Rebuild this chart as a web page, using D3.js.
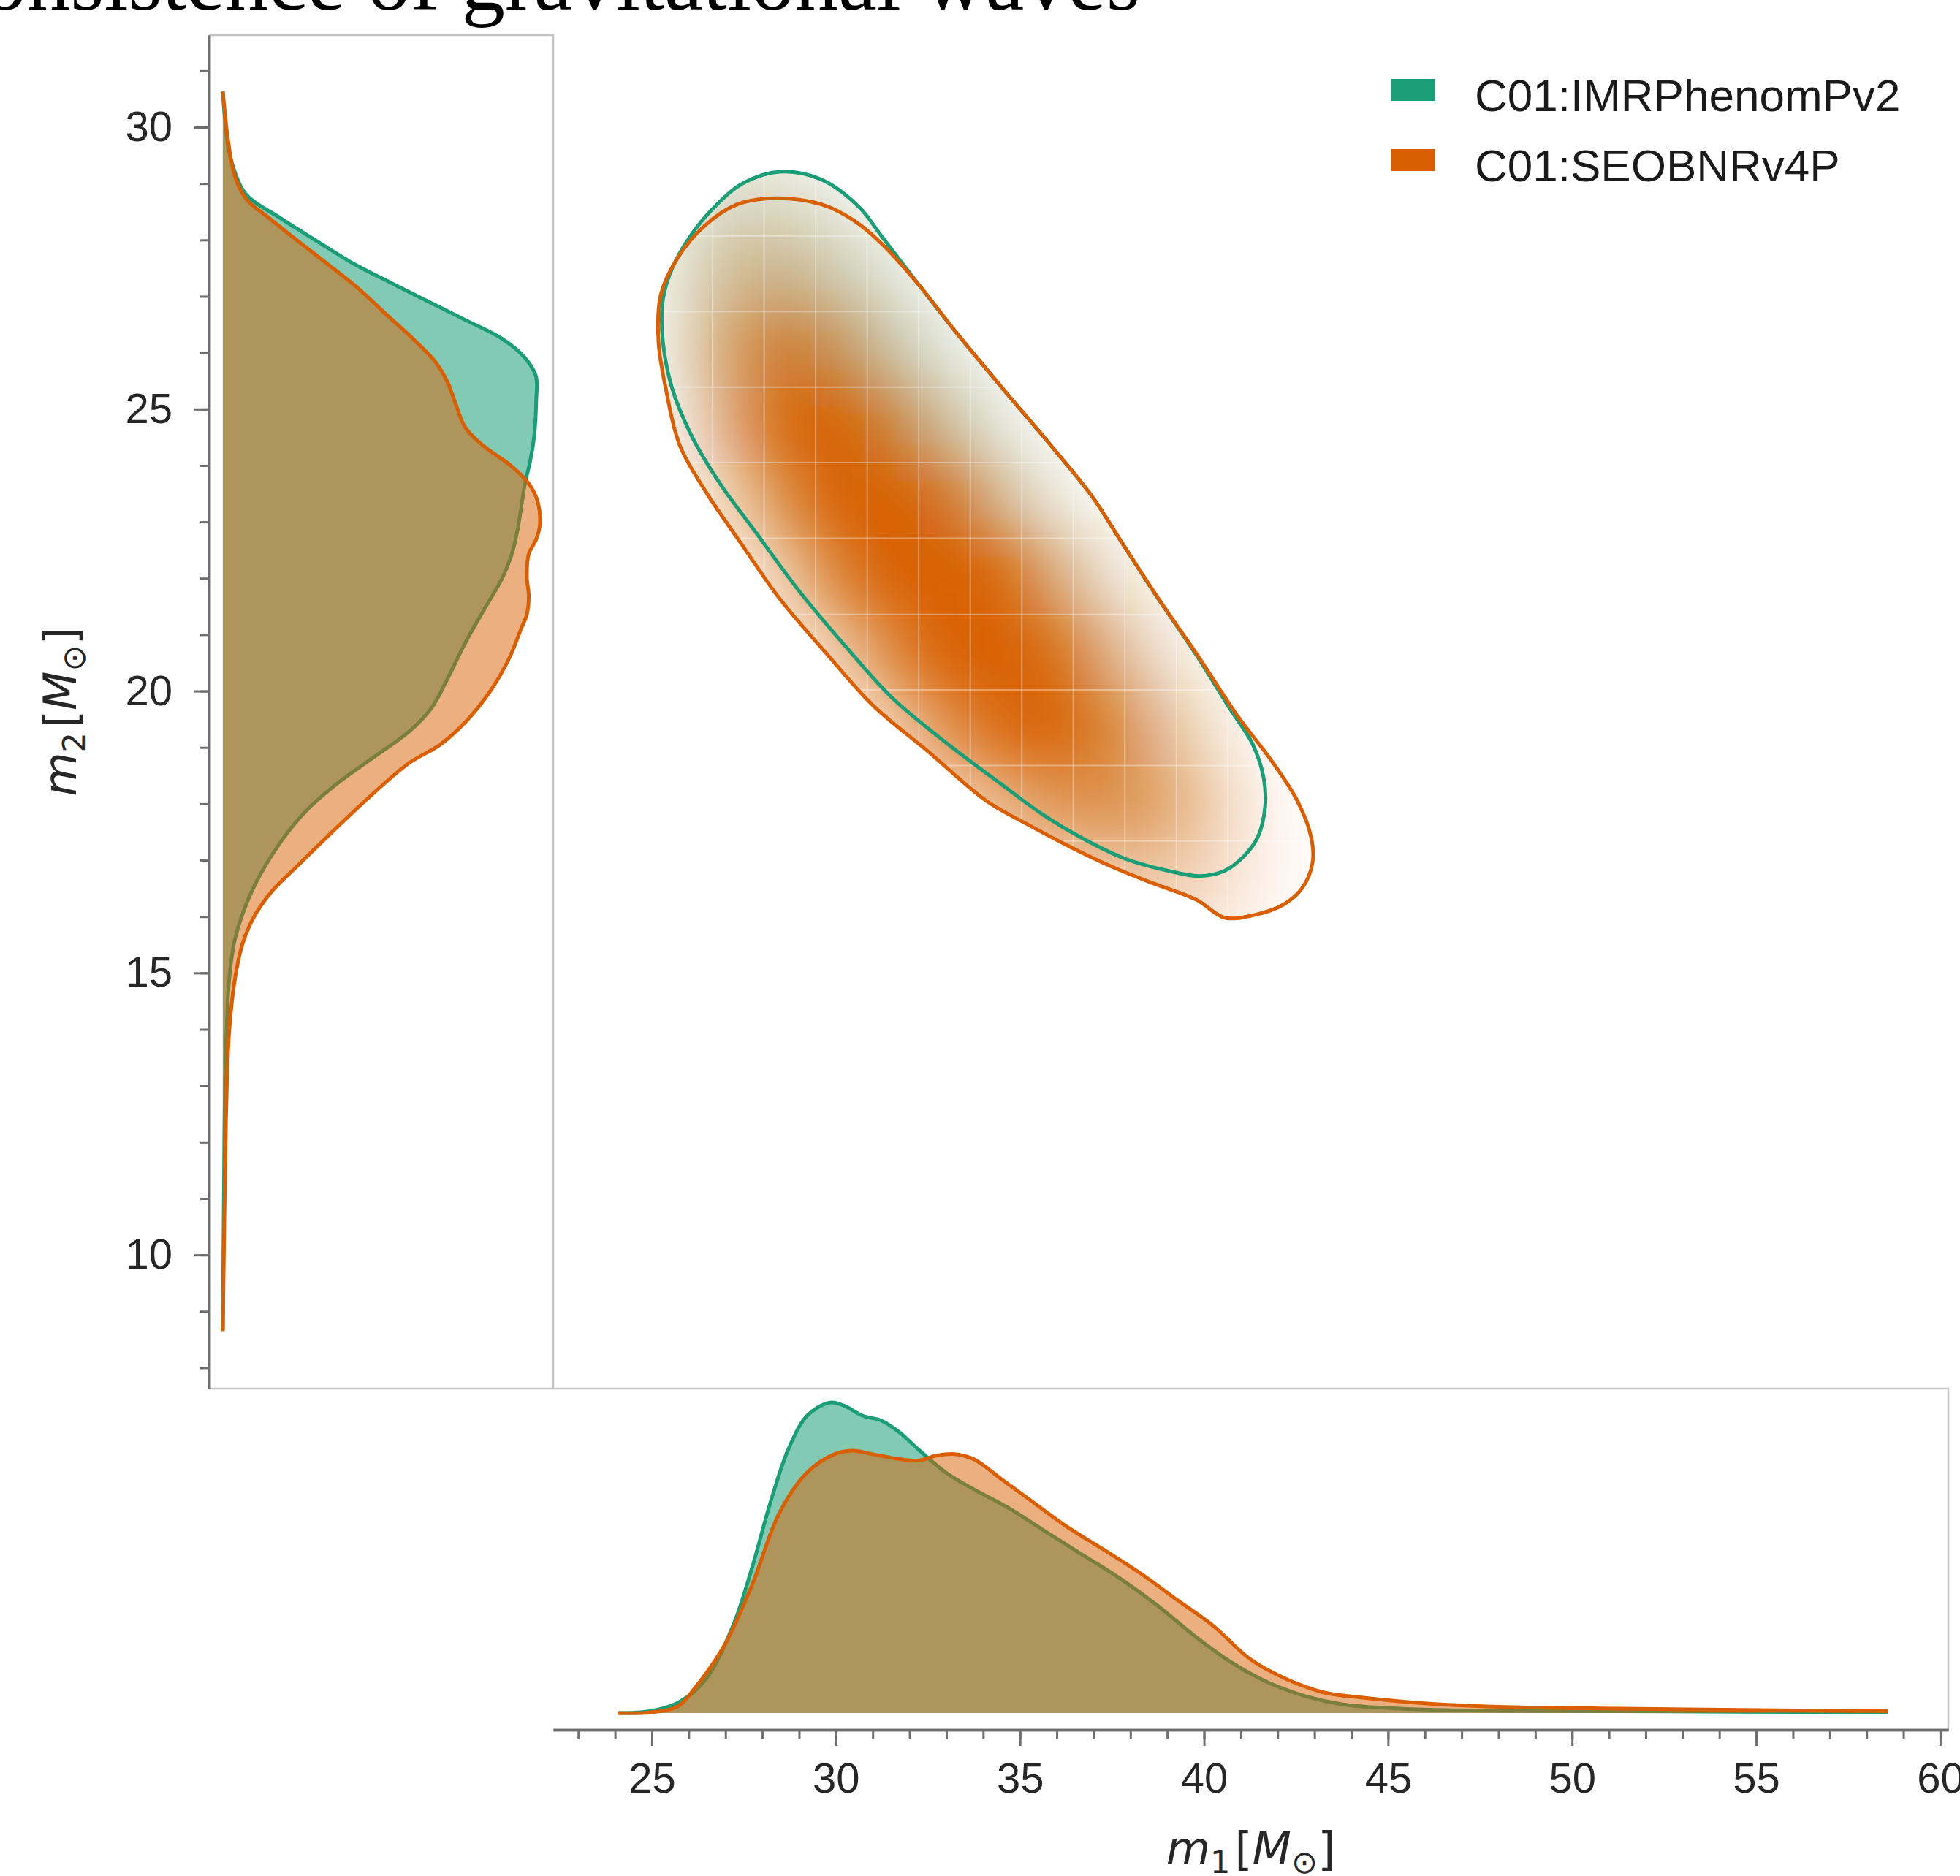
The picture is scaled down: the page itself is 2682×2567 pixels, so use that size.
<!DOCTYPE html>
<html>
<head>
<meta charset="utf-8">
<title>m1 / m2 posterior comparison</title>
<script src="https://cdn.jsdelivr.net/npm/d3@7"></script>
<style>
  body { margin: 0; background: #fff; }
  svg text { font-family: "Liberation Sans", Arial, sans-serif; }
</style>
</head>
<body>
<div id="chart"></div>
<script>
// ---- values ----
var labels = ["C01:IMRPhenomPv2", "C01:SEOBNRv4P"];
var colours = ["#1b9e77", "#d95f02"];
var xTicks = [25, 30, 35, 40, 45, 50, 55, 60];
var yTicks = [10, 15, 20, 25, 30];

// m1 marginal, [m1, relative density]
var m1Green = [[24.07,0],[24.95,0.006],[25.71,0.033],[26.46,0.108],[27.20,0.28],[27.71,0.463],[28.22,0.678],[28.71,0.85],[29.22,0.958],[29.84,1.0],[30.22,0.99],[30.72,0.958],[31.23,0.942],[31.73,0.904],[32.23,0.85],[32.98,0.775],[33.74,0.721],[34.74,0.657],[35.74,0.581],[36.75,0.506],[37.75,0.431],[38.75,0.345],[39.75,0.248],[40.76,0.162],[41.77,0.097],[42.77,0.054],[43.77,0.028],[45.03,0.016],[46.28,0.01],[51.30,0.006],[58.57,0.003]];
var m1Orange = [[24.07,0],[24.95,0.002],[25.71,0.022],[26.21,0.087],[26.96,0.216],[27.71,0.409],[28.47,0.646],[29.22,0.775],[29.97,0.834],[30.47,0.845],[30.98,0.834],[31.73,0.818],[32.23,0.813],[32.73,0.829],[33.23,0.834],[33.74,0.818],[34.49,0.754],[35.24,0.689],[36.24,0.603],[37.25,0.528],[38.25,0.452],[39.25,0.366],[40.26,0.28],[41.26,0.173],[42.27,0.108],[43.27,0.066],[44.28,0.05],[45.78,0.033],[47.53,0.022],[51.30,0.014],[58.57,0.006]];

// m2 marginal, [m2, relative density]
var m2Green = [[30.63,0],[29.72,0.015],[29.31,0.032],[28.81,0.074],[28.40,0.18],[27.98,0.30],[27.57,0.42],[27.24,0.536],[26.91,0.655],[26.58,0.774],[26.24,0.893],[25.91,0.964],[25.58,0.999],[25.17,1.0],[24.51,0.993],[24.09,0.981],[23.68,0.964],[23.26,0.952],[22.85,0.94],[22.43,0.922],[22.02,0.893],[21.44,0.833],[20.86,0.774],[20.20,0.715],[19.71,0.667],[19.29,0.596],[18.81,0.477],[18.33,0.358],[17.86,0.263],[17.39,0.193],[16.76,0.121],[16.21,0.074],[15.58,0.038],[14.87,0.020],[13.77,0.011],[12.59,0.006],[11.41,0.004],[8.65,0]];
var m2Orange = [[30.63,0],[29.72,0.018],[29.14,0.038],[28.73,0.074],[28.40,0.145],[27.98,0.24],[27.57,0.335],[27.15,0.43],[26.66,0.525],[26.24,0.608],[25.83,0.679],[25.50,0.715],[25.17,0.738],[24.67,0.774],[24.34,0.833],[24.01,0.916],[23.68,0.976],[23.35,1.005],[22.93,1.011],[22.68,0.999],[22.43,0.976],[22.02,0.97],[21.69,0.976],[21.36,0.97],[21.11,0.952],[20.61,0.916],[20.03,0.857],[19.45,0.774],[19.04,0.691],[18.73,0.596],[18.17,0.477],[17.55,0.358],[16.91,0.24],[16.45,0.157],[15.98,0.098],[15.50,0.062],[14.87,0.038],[13.93,0.02],[12.59,0.011],[11.02,0.006],[8.65,0]];

// 90% contours, [m1, m2]
var contourGreen = [[28.47,29.21],[29.61,29.07],[30.62,28.59],[31.25,28.06],[32.27,27.19],[33.28,26.35],[34.55,25.35],[35.82,24.37],[36.95,23.46],[37.8,22.6],[38.66,21.73],[39.79,20.64],[40.70,19.69],[41.32,19.06],[41.62,18.46],[41.66,17.95],[41.46,17.41],[41.08,17.07],[40.55,16.81],[39.87,16.72],[39.04,16.81],[37.88,17.02],[36.75,17.37],[35.62,17.81],[34.55,18.32],[33.02,19.07],[31.51,19.89],[30.24,20.81],[28.97,21.80],[27.84,22.80],[26.83,23.70],[26.07,24.54],[25.56,25.35],[25.30,26.19],[25.30,26.94],[25.56,27.51],[26.07,28.09],[26.71,28.59],[27.46,29.00]];
var contourOrange = [[28.34,28.74],[29.61,28.63],[30.50,28.34],[31.25,27.93],[32.27,27.19],[33.28,26.35],[34.55,25.35],[35.82,24.37],[36.95,23.46],[37.8,22.6],[38.75,21.65],[39.87,20.59],[40.92,19.55],[41.84,18.76],[42.53,18.06],[42.91,17.41],[42.95,16.96],[42.67,16.51],[42.15,16.21],[41.38,16.03],[40.56,15.98],[39.79,16.3],[38.66,16.58],[37.51,16.88],[36.38,17.23],[35.22,17.63],[34.09,18.05],[32.52,18.92],[31.00,19.75],[29.75,20.66],[28.47,21.64],[27.40,22.64],[26.45,23.55],[25.75,24.37],[25.38,25.36],[25.18,26.19],[25.24,27.02],[25.70,27.68],[26.45,28.26],[27.32,28.63]];

// 2d density cells: centres and values (rows top to bottom)
var gridM1 = [25.95, 27.35, 28.75, 30.15, 31.55, 32.95, 34.35, 35.75, 37.15, 38.55, 39.95, 41.35, 42.75, 44.15];
var gridM2 = [28.74, 27.40, 26.06, 24.72, 23.38, 22.04, 20.69, 19.35, 18.01, 16.67, 15.33];
var densGreen = [
  [0.30,0.40,0.35,0.20,0.06,0,0,0,0,0,0,0,0,0],
  [0.35,0.55,0.65,0.55,0.30,0.08,0,0,0,0,0,0,0,0],
  [0.30,0.55,0.85,0.90,0.65,0.30,0.08,0,0,0,0,0,0,0],
  [0.15,0.35,0.70,0.95,0.95,0.65,0.30,0.08,0,0,0,0,0,0],
  [0.04,0.12,0.40,0.72,0.90,0.85,0.55,0.25,0.06,0,0,0,0,0],
  [0,0.02,0.12,0.35,0.60,0.75,0.72,0.50,0.22,0.06,0,0,0,0],
  [0,0,0.02,0.10,0.25,0.45,0.55,0.55,0.40,0.16,0.04,0,0,0],
  [0,0,0,0.01,0.06,0.16,0.30,0.40,0.40,0.28,0.10,0.02,0,0],
  [0,0,0,0,0.01,0.03,0.08,0.16,0.24,0.22,0.10,0.02,0,0],
  [0,0,0,0,0,0,0.01,0.03,0.06,0.08,0.04,0,0,0],
  [0,0,0,0,0,0,0,0,0,0,0,0,0,0]
];
var densOrange = [
  [0.06,0.12,0.10,0.05,0.01,0,0,0,0,0,0,0,0,0],
  [0.10,0.28,0.28,0.16,0.06,0.01,0,0,0,0,0,0,0,0],
  [0.14,0.46,0.60,0.42,0.18,0.06,0.01,0,0,0,0,0,0,0],
  [0.10,0.44,0.74,0.76,0.52,0.22,0.07,0.01,0,0,0,0,0,0],
  [0.06,0.24,0.55,0.86,0.92,0.66,0.30,0.09,0.02,0,0,0,0,0],
  [0.01,0.08,0.26,0.60,0.94,1.00,0.76,0.40,0.14,0.04,0,0,0,0],
  [0,0.01,0.08,0.26,0.56,0.84,0.90,0.72,0.40,0.15,0.04,0,0,0],
  [0,0,0.01,0.07,0.24,0.50,0.70,0.76,0.62,0.36,0.13,0.03,0,0],
  [0,0,0,0.01,0.06,0.18,0.34,0.48,0.52,0.46,0.26,0.08,0.01,0],
  [0,0,0,0,0.01,0.04,0.10,0.18,0.24,0.26,0.20,0.08,0.02,0],
  [0,0,0,0,0,0,0.01,0.03,0.06,0.08,0.07,0.03,0.01,0]
];

// ---- layout ----
var W = 2682, H = 2567;
var x = d3.scaleLinear().domain([22.32, 60.22]).range([757, 2666]);
var y = d3.scaleLinear().domain([7.63, 31.633]).range([1900, 48]);
var xd = d3.scaleLinear().domain([-0.044, 1.054]).range([286, 757]);   // m2 marginal width
var yd = d3.scaleLinear().domain([-0.054, 1.045]).range([2367, 1900]); // m1 marginal height

var svg = d3.select("#chart").append("svg")
  .attr("width", W).attr("height", H)
  .style("display", "block");
svg.append("rect").attr("width", W).attr("height", H).attr("fill", "#fff");

var defs = svg.append("defs");
defs.append("filter").attr("id", "soft")
  .attr("filterUnits", "userSpaceOnUse")
  .attr("x", 600).attr("y", 0).attr("width", 1600).attr("height", 1600)
  .append("feGaussianBlur").attr("stdDeviation", 40);

var contourLine = d3.line().curve(d3.curveCatmullRomClosed)
  .x(function(d) { return x(d[0]); }).y(function(d) { return y(d[1]); });

// density only shows inside the two contours
var clip = defs.append("clipPath").attr("id", "inside");
[contourGreen, contourOrange].forEach(function(c) {
  clip.append("path").attr("d", contourLine(c));
});

// title, mostly cut off at the top edge
svg.append("text")
  .attr("x", 1560).attr("y", 13)
  .attr("text-anchor", "end")
  .style("font-family", "'Liberation Serif', 'Times New Roman', serif")
  .style("font-size", "119px")
  .attr("fill", "#000")
  .text("Consistence of gravitational waves");

// ---- 2d density ----
var dm1 = gridM1[1] - gridM1[0], dm2 = gridM2[0] - gridM2[1];
var cells = [];
[densGreen, densOrange].forEach(function(grid, k) {
  grid.forEach(function(row, j) {
    row.forEach(function(v, i) {
      if (v > 0) cells.push({k: k, m1: gridM1[i], m2: gridM2[j], v: v});
    });
  });
});
var layerAlpha = [0.42, 1.3];

var dens = svg.append("g").attr("clip-path", "url(#inside)");
dens.append("g").attr("filter", "url(#soft)")
  .selectAll("rect").data(cells).enter().append("rect")
  .attr("x", function(d) { return x(d.m1 - dm1 / 2); })
  .attr("y", function(d) { return y(d.m2 + dm2 / 2); })
  .attr("width", x(gridM1[1]) - x(gridM1[0]))
  .attr("height", y(gridM2[1]) - y(gridM2[0]))
  .attr("shape-rendering", "crispEdges")
  .attr("fill", function(d) { return colours[d.k]; })
  .attr("fill-opacity", function(d) { return Math.min(1, d.v * layerAlpha[d.k]); });

// faint cell seams of the raster
var seams = dens.append("g").attr("stroke", "#fff").attr("stroke-opacity", 0.35).attr("stroke-width", 2);
var top2 = y(gridM2[0] + dm2 / 2), bot2 = y(gridM2[gridM2.length - 1] - dm2 / 2);
var left1 = x(gridM1[0] - dm1 / 2), right1 = x(gridM1[gridM1.length - 1] + dm1 / 2);
seams.selectAll("line.v").data(gridM1.slice(1)).enter().append("line")
  .attr("x1", function(d) { return x(d - dm1 / 2); }).attr("x2", function(d) { return x(d - dm1 / 2); })
  .attr("y1", top2).attr("y2", bot2);
seams.selectAll("line.h").data(gridM2.slice(1)).enter().append("line")
  .attr("y1", function(d) { return y(d + dm2 / 2); }).attr("y2", function(d) { return y(d + dm2 / 2); })
  .attr("x1", left1).attr("x2", right1);

// ---- contours ----
[contourGreen, contourOrange].forEach(function(c, k) {
  svg.append("path").attr("d", contourLine(c))
    .attr("fill", "none").attr("stroke", colours[k]).attr("stroke-width", 5);
});

// ---- marginals ----
var leftArea = d3.area().curve(d3.curveCatmullRom)
  .y(function(d) { return y(d[0]); }).x0(xd(0)).x1(function(d) { return xd(d[1]); });
var leftLine = d3.line().curve(d3.curveCatmullRom)
  .x(function(d) { return xd(d[1]); }).y(function(d) { return y(d[0]); });
var botArea = d3.area().curve(d3.curveCatmullRom)
  .x(function(d) { return x(d[0]); }).y0(yd(0)).y1(function(d) { return yd(d[1]); });
var botLine = d3.line().curve(d3.curveCatmullRom)
  .x(function(d) { return x(d[0]); }).y(function(d) { return yd(d[1]); });

var fillAlpha = [0.55, 0.5];
[m2Green, m2Orange].forEach(function(s, k) {
  svg.append("path").attr("d", leftArea(s)).attr("fill", colours[k]).attr("fill-opacity", fillAlpha[k]);
  svg.append("path").attr("d", leftLine(s)).attr("fill", "none").attr("stroke", colours[k]).attr("stroke-width", 5);
});
[m1Green, m1Orange].forEach(function(s, k) {
  svg.append("path").attr("d", botArea(s)).attr("fill", colours[k]).attr("fill-opacity", fillAlpha[k]);
  svg.append("path").attr("d", botLine(s)).attr("fill", "none").attr("stroke", colours[k]).attr("stroke-width", 5);
});

// ---- panel frames ----
var frame = svg.append("g").attr("stroke", "#c4c4c4").attr("stroke-width", 2.5).attr("fill", "none");
frame.append("path").attr("d",
  "M" + xd.range()[0] + "," + y.range()[1] + "H" + xd.range()[1] + "V" + y.range()[0]);
frame.append("path").attr("d",
  "M" + xd.range()[0] + "," + y.range()[0] + "H" + x.range()[1] + "V" + yd.range()[0]);

// ---- axes ----
function styleAxis(g) {
  g.select(".domain").attr("stroke", "#6e6e6e").attr("stroke-width", 3.5);
  g.selectAll(".tick line").attr("stroke", "#6e6e6e").attr("stroke-width", 3);
  g.selectAll(".tick text").attr("fill", "#262626").style("font-size", "58px");
}
svg.append("g").attr("transform", "translate(0," + yd.range()[0] + ")")
  .call(d3.axisBottom(x).tickValues(d3.range(23, 61)).tickSize(13).tickSizeOuter(0).tickFormat(""))
  .call(styleAxis);
svg.append("g").attr("transform", "translate(0," + yd.range()[0] + ")")
  .call(d3.axisBottom(x).tickValues(xTicks).tickSize(22).tickPadding(23).tickSizeOuter(0))
  .call(styleAxis);
svg.append("g").attr("transform", "translate(" + xd.range()[0] + ",0)")
  .call(d3.axisLeft(y).tickValues(d3.range(8, 32)).tickSize(12).tickSizeOuter(0).tickFormat(""))
  .call(styleAxis);
svg.append("g").attr("transform", "translate(" + xd.range()[0] + ",0)")
  .call(d3.axisLeft(y).tickValues(yTicks).tickSize(20).tickPadding(30).tickSizeOuter(0))
  .call(styleAxis);

// ---- axis labels (m_1 [M_sun], m_2 [M_sun]) ----
function massLabel(t, idx) {
  t.style("font-family", "'DejaVu Sans', sans-serif").style("font-size", "62px").attr("fill", "#262626");
  t.append("tspan").style("font-style", "italic").text("m");
  t.append("tspan").attr("dy", 12).style("font-size", "43px").text(idx);
  t.append("tspan").attr("dy", -12).attr("dx", 6).text("[");
  t.append("tspan").style("font-style", "italic").text("M");
  t.append("tspan").attr("dy", 12).style("font-size", "43px").text("\u2299");
  t.append("tspan").attr("dy", -12).text("]");
}
svg.append("text").attr("x", (x.range()[0] + x.range()[1]) / 2).attr("y", 2551)
  .attr("text-anchor", "middle").call(massLabel, "1");
svg.append("text")
  .attr("transform", "translate(104," + (y.range()[0] + y.range()[1]) / 2 + ") rotate(-90)")
  .attr("text-anchor", "middle").call(massLabel, "2");

// ---- legend ----
var legend = svg.append("g").attr("transform", "translate(1904,108)");
labels.forEach(function(l, k) {
  legend.append("rect").attr("x", 0).attr("y", k * 96).attr("width", 60).attr("height", 30).attr("fill", colours[k]);
  legend.append("text").attr("x", 114).attr("y", k * 96 + 44)
    .attr("fill", "#1a1a1a").style("font-size", "62px").text(l);
});
</script>
</body>
</html>
